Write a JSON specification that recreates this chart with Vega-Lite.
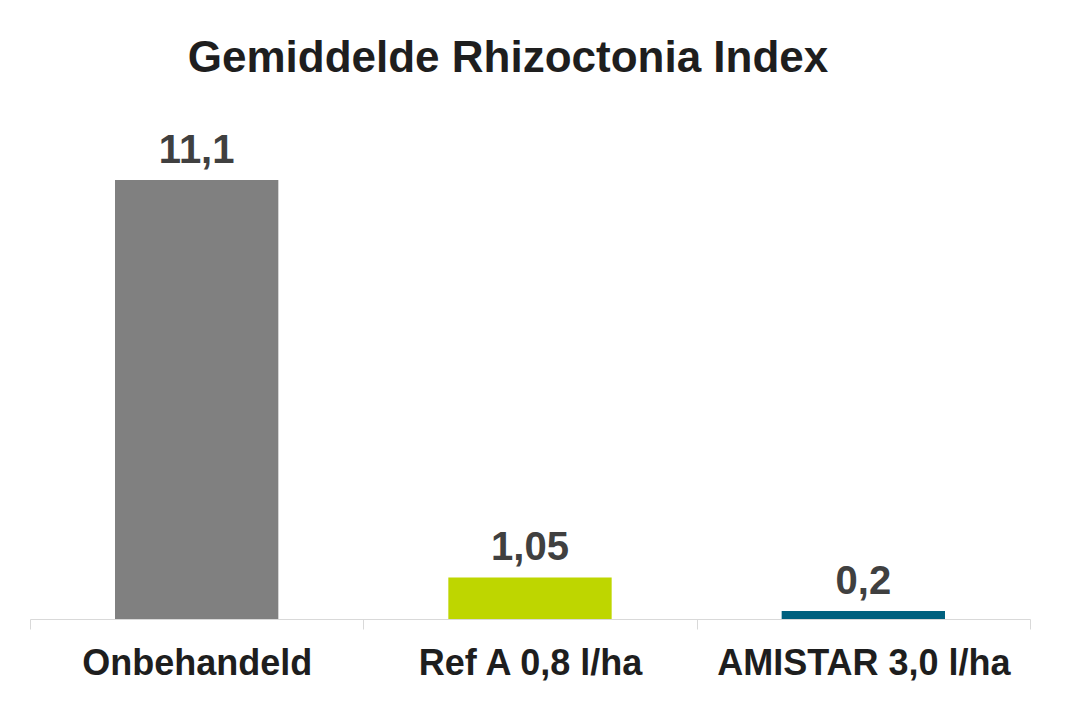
{
  "$schema": "https://vega.github.io/schema/vega-lite/v6.json",
  "width": 1000,
  "height": 474.6,
  "autosize": "none",
  "padding": {"left": 30, "top": 144.4, "right": 40, "bottom": 98},
  "background": "white",
  "title": {
    "text": "Gemiddelde Rhizoctonia Index",
    "font": "Liberation Sans",
    "fontSize": 44,
    "fontWeight": "bold",
    "color": "#1e1e1e",
    "anchor": "middle",
    "baseline": "alphabetic",
    "dx": -22,
    "offset": 15
  },
  "data": {
    "values": [
      {"behandeling": "Onbehandeld", "index": 11.1, "label": "11,1"},
      {"behandeling": "Ref A 0,8 l/ha", "index": 1.05, "label": "1,05"},
      {"behandeling": "AMISTAR 3,0 l/ha", "index": 0.2, "label": "0,2"}
    ]
  },
  "encoding": {
    "x": {
      "field": "behandeling",
      "type": "nominal",
      "sort": null,
      "title": null,
      "scale": {"paddingInner": 0, "paddingOuter": 0},
      "axis": {
        "labelAngle": 0,
        "labelFont": "Liberation Sans",
        "labelFontSize": 36,
        "labelFontWeight": "bold",
        "labelColor": "#1e1e1e",
        "labelBaseline": "alphabetic",
        "labelPadding": 45,
        "labelLimit": 0,
        "tickBand": "extent",
        "tickSize": 10,
        "tickColor": "#d9d9d9",
        "domainColor": "#d9d9d9",
        "grid": false
      }
    },
    "y": {
      "field": "index",
      "type": "quantitative",
      "scale": {"domain": [0, 12]},
      "axis": null
    }
  },
  "layer": [
    {
      "mark": {"type": "bar", "width": {"band": 0.49}},
      "encoding": {
        "color": {
          "field": "behandeling",
          "type": "nominal",
          "sort": null,
          "scale": {"range": ["#808080", "#bed600", "#00607e"]},
          "legend": null
        }
      }
    },
    {
      "mark": {
        "type": "text",
        "font": "Liberation Sans",
        "fontSize": 40,
        "fontWeight": "bold",
        "color": "#404040",
        "baseline": "alphabetic",
        "dy": -17
      },
      "encoding": {
        "text": {"field": "label"}
      }
    }
  ],
  "config": {
    "view": {"stroke": null}
  }
}
